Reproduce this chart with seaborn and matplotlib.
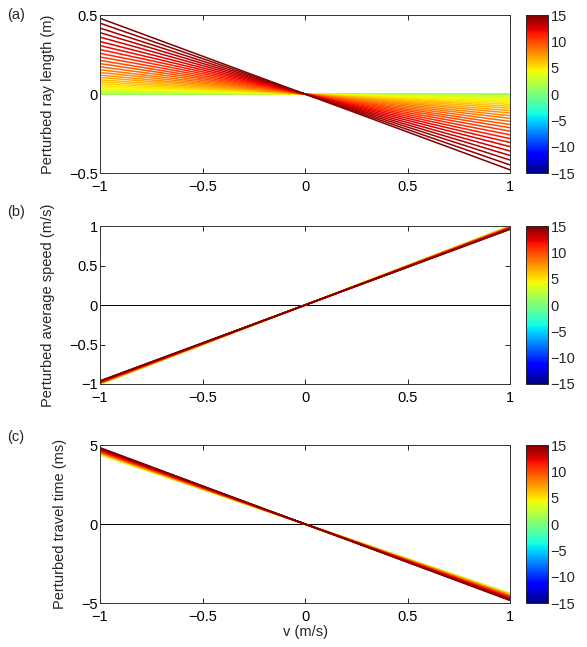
import numpy as np
import pandas as pd
import matplotlib
matplotlib.use("Agg")
import matplotlib.pyplot as plt
import seaborn as sns
from matplotlib.ticker import FuncFormatter

sns.set_style("ticks")
plt.rcParams['font.family'] = ['Liberation Sans', 'DejaVu Sans']
plt.rcParams['xtick.direction'] = 'in'
plt.rcParams['ytick.direction'] = 'in'
plt.rcParams['xtick.top'] = True
plt.rcParams['ytick.right'] = True

# perturbation parameter of every line (colour)
params = [0, 0.5, 1, 1.5, 2, 2.5, 3, 3.5, 4, 4.5, 5, 5.5, 6, 6.5, 7, 7.5,
          8, 8.5, 9, 9.5, 10, 10.5, 11, 11.5, 12, 12.5, 13, 13.5, 14, 14.5, 15]

# value of each line at v = -1 (lines are antisymmetric through the origin)
ray_length_left = [0.0, 0.001, 0.002, 0.005, 0.009, 0.013, 0.019, 0.026, 0.034,
                   0.043, 0.053, 0.065, 0.077, 0.090, 0.105, 0.120, 0.137, 0.154,
                   0.173, 0.193, 0.213, 0.235, 0.258, 0.282, 0.307, 0.333, 0.361,
                   0.389, 0.418, 0.449, 0.480]
avg_speed_left = [-1.000, -1.000, -1.000, -1.000, -0.999, -0.999, -0.998, -0.998,
                  -0.997, -0.996, -0.996, -0.995, -0.994, -0.992, -0.991, -0.990,
                  -0.989, -0.987, -0.986, -0.984, -0.982, -0.980, -0.978, -0.977,
                  -0.974, -0.972, -0.970, -0.968, -0.965, -0.963, -0.960]
travel_time_left = [4.40, 4.40, 4.40, 4.41, 4.41, 4.42, 4.42, 4.43, 4.44, 4.45,
                    4.46, 4.47, 4.48, 4.49, 4.50, 4.52, 4.53, 4.55, 4.56, 4.58,
                    4.60, 4.62, 4.64, 4.66, 4.68, 4.71, 4.73, 4.76, 4.78, 4.81, 4.84]

v_ends = [-1, 1]
cbar_ticks = [-15, -10, -5, 0, 5, 10, 15]


def fmt(v, pos=None):
    s = '{:g}'.format(round(v, 6))
    return s.replace('-', '\u2212')


def make_frame(left_vals):
    rows = []
    for p, a in zip(params, left_vals):
        for v in v_ends:
            rows.append({'v': v, 'y': -a * v, 'p': p})
    return pd.DataFrame(rows)


W, H = 587, 647
fig = plt.figure(figsize=(W / 100, H / 100), dpi=100)
norm = plt.Normalize(-15, 15)
jet = matplotlib.colormaps['jet']

panels = [
    (ray_length_left, 'Perturbed ray length (m)', (-0.5, 0.5), [-0.5, 0, 0.5], '(a)', 0.7326, 15, False),
    (avg_speed_left, 'Perturbed average speed (m/s)', (-1, 1), [-1, -0.5, 0, 0.5, 1], '(b)', 0.4065, 212, True),
    (travel_time_left, 'Perturbed travel time (ms)', (-5, 5), [-5, 0, 5], '(c)', 0.068, 437, True),
]

for i, (vals, ylabel, ylim, yticks, tag, bottom, tag_y, zero_line) in enumerate(panels):
    ax = fig.add_axes([0.1704, bottom, 0.6985, 0.2440])
    if zero_line:
        ax.axhline(0, color='black', lw=0.7, zorder=1)
    df = make_frame(vals)
    sns.lineplot(data=df, x='v', y='y', hue='p', palette=jet, hue_norm=norm,
                 estimator=None, legend=False, lw=1.1, ax=ax, zorder=2)
    ax.set_xlim(-1, 1)
    ax.set_ylim(*ylim)
    ax.set_xticks([-1, -0.5, 0, 0.5, 1])
    ax.set_yticks(yticks)
    ax.xaxis.set_major_formatter(FuncFormatter(fmt))
    ax.yaxis.set_major_formatter(FuncFormatter(fmt))
    ax.tick_params(labelsize=10.5, length=3.5, width=0.6, colors='black')
    ax.tick_params(axis='x', pad=5)
    ax.tick_params(axis='y', pad=1.5)
    for sp in ax.spines.values():
        sp.set_linewidth(0.7)
        sp.set_color('#333333')
    ax.set_ylabel(ylabel, fontsize=10.5, labelpad=10)
    ax.set_xlabel('v (m/s)' if i == 2 else '', fontsize=10.5, labelpad=1)
    fig.text(7 / W, 1 - tag_y / H, tag, fontsize=10.5, va='center', ha='left')

    cax = fig.add_axes([0.896, bottom, 0.0375, 0.2440])
    sm = plt.cm.ScalarMappable(norm=norm, cmap=jet)
    cb = fig.colorbar(sm, cax=cax, ticks=cbar_ticks)
    cb.ax.yaxis.set_major_formatter(FuncFormatter(fmt))
    cb.ax.tick_params(labelsize=10.5, length=3, width=0.6, direction='in', right=True, pad=2)
    cb.outline.set_linewidth(0.7)

fig.savefig('out.png', dpi=100)
